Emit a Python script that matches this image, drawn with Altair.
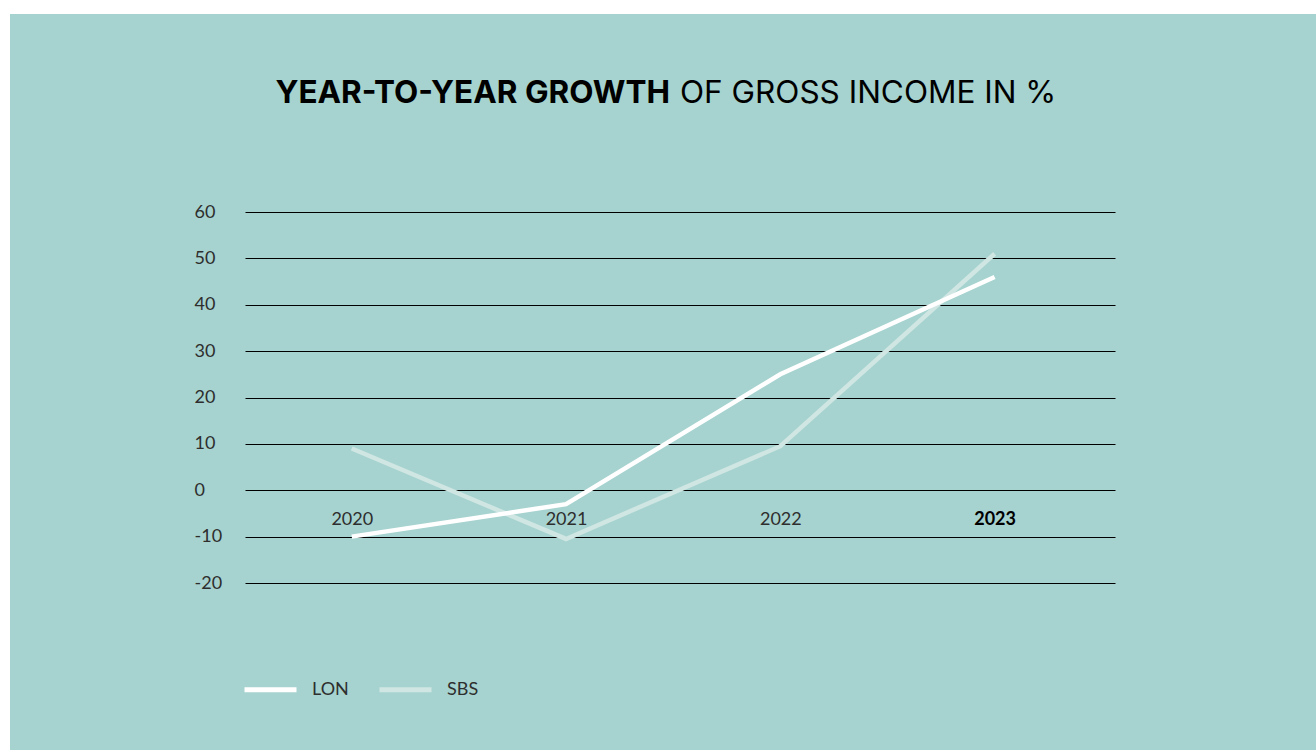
import altair as alt
import pandas as pd

years = ["2020", "2021", "2022", "2023"]
lon = [-10, -3, 25, 46]
sbs = [9, -10.5, 9.5, 51]
y_ticks = [-20, -10, 0, 10, 20, 30, 40, 50, 60]
series_names = ["LON", "SBS"]
series_colors = ["#ffffff", "#cfe6e3"]
title_bold = "YEAR-TO-YEAR GROWTH"
title_regular = "OF GROSS INCOME IN %"

df = pd.DataFrame({
    "year": years * 2,
    "value": lon + sbs,
    "series": ["LON"] * 4 + ["SBS"] * 4,
})

BG = "#a6d3cf"
LABEL_FONT = "Lato"

x_enc = alt.X(
    "year:O",
    scale=alt.Scale(type="point", padding=0.53, align=0.47),
    axis=alt.Axis(
        title=None, orient="bottom", offset=-73, domain=False, ticks=False,
        grid=False, labelPadding=0, labelAngle=0, labelFont=LABEL_FONT,
        labelFontSize=18,
        labelColor={"condition": {"test": "datum.label == '2023'", "value": "#000000"}, "value": "#2e2e2e"},
        labelFontWeight={"condition": {"test": "datum.label == '2023'", "value": "bold"}, "value": "normal"},
    ),
)
y_enc = alt.Y(
    "value:Q",
    scale=alt.Scale(domain=[-20, 60], nice=False, zero=False),
    axis=alt.Axis(
        title=None, values=y_ticks, domain=False, ticks=False, grid=True,
        gridColor="#000000", gridWidth=1.2, gridOpacity=1,
        labelAlign="left", labelPadding=51, labelFont=LABEL_FONT,
        labelFontSize=18, labelColor="#2e2e2e",
        labelExpr="datum.value + ''",
    ),
)
color_enc = alt.Color(
    "series:N",
    scale=alt.Scale(domain=series_names, range=series_colors),
    legend=alt.Legend(
        title=None, orient="none", legendX=-3, legendY=449, direction="horizontal",
        symbolType="stroke", symbolSize=2704, symbolStrokeWidth=5,
        labelFont=LABEL_FONT, labelFontSize=18, labelColor="#2e2e2e",
        labelOffset=13, columnPadding=20, symbolOpacity=1,
    ),
)

one = pd.DataFrame({"k": [0]})
white_top = alt.Chart(one).mark_rect(color="#ffffff").encode(
    x=alt.value(-245), x2=alt.value(1071), y=alt.value(-212), y2=alt.value(-198)
)
white_left = alt.Chart(one).mark_rect(color="#ffffff").encode(
    x=alt.value(-245), x2=alt.value(-235), y=alt.value(-212), y2=alt.value(538)
)

base = alt.Chart(df)
sbs_line = base.transform_filter("datum.series == 'SBS'").mark_line(strokeWidth=4.5).encode(
    x=x_enc, y=y_enc, color=color_enc
)
lon_line = base.transform_filter("datum.series == 'LON'").mark_line(strokeWidth=4.5).encode(
    x=x_enc, y=y_enc, color=color_enc
)

t1 = alt.Chart(pd.DataFrame({"t": [title_bold]})).mark_text(
    font="Inter", fontSize=31.5, fontWeight="bold", align="right", baseline="middle", color="#000000"
).encode(text="t:N", x=alt.value(425), y=alt.value(-118))
t2 = alt.Chart(pd.DataFrame({"t": [title_regular]})).mark_text(
    font="Inter", fontSize=31.5, fontWeight="normal", align="left", baseline="middle", color="#000000"
).encode(text="t:N", x=alt.value(435), y=alt.value(-118))

chart = alt.layer(white_top, white_left, sbs_line, lon_line, t1, t2).properties(
    width=870, height=371,
    autosize=alt.AutoSizeParams(type="none"),
    padding={"left": 245, "top": 212, "right": 201, "bottom": 167},
    background=BG,
).configure_view(stroke=None)

chart.save("out.html", embed_options={"renderer": "svg", "actions": False})
